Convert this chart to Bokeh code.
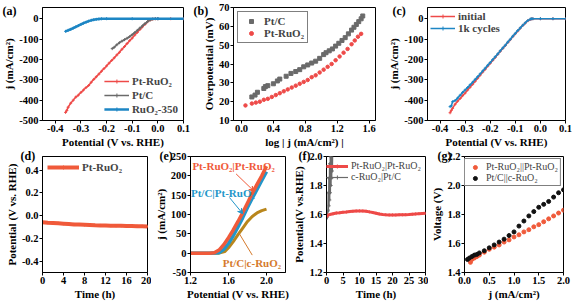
from bokeh.plotting import figure
from bokeh.layouts import row, column
from bokeh.models import (Range1d, FixedTicker, NumeralTickFormatter, Legend,
                          LegendItem, Label, Arrow, VeeHead, Title)
from bokeh.embed import file_html
from bokeh.resources import INLINE

FONT = "Liberation Serif"

# ---------------- data ----------------
# (a) HER LSV
a_ptru_x = [-0.36, -0.355, -0.35, -0.34, -0.33, -0.32, -0.31, -0.30, -0.29, -0.28, -0.27, -0.26,
            -0.25, -0.24, -0.23, -0.22, -0.21, -0.20, -0.19, -0.18, -0.17, -0.16, -0.15, -0.14,
            -0.13, -0.12, -0.11, -0.10, -0.09, -0.08, -0.07, -0.06, -0.05, -0.04, -0.03, -0.02,
            -0.01, 0.0, 0.05, 0.1]
a_ptru_y = [-460, -450, -435, -415, -400, -385, -375, -362, -350, -338, -328, -312,
            -298, -285, -272, -258, -245, -232, -218, -205, -192, -178, -165, -150,
            -137, -122, -108, -95, -80, -67, -53, -40, -27, -15, -6, -2,
            0, 0, 0, 0]
a_ptc_x = [-0.178, -0.17, -0.16, -0.15, -0.14, -0.13, -0.12, -0.11, -0.10, -0.09, -0.08, -0.07,
           -0.06, -0.05, -0.04, -0.03, -0.02, -0.01, 0.0]
a_ptc_y = [-147, -140, -128, -118, -110, -103, -96, -88, -78, -68, -57, -46,
           -35, -24, -14, -6, -2, 0, 0]
a_ruo_x = [-0.36, -0.35, -0.34, -0.33, -0.32, -0.31, -0.30, -0.29, -0.28, -0.27, -0.26, -0.25,
           -0.24, -0.23, -0.22, -0.20, -0.10, 0.0, 0.1]
a_ruo_y = [-62, -57, -52, -46, -40, -34, -28, -22, -17, -12, -8, -5,
           -3, -1.5, -0.5, 0, 0, 0, 0]

# (b) Tafel
b_ptc_x = [0.13, 0.17, 0.20, 0.28, 0.30, 0.33, 0.40, 0.45, 0.48, 0.56, 0.62, 0.68, 0.73, 0.78,
           0.83, 0.88, 0.93, 0.98, 1.03, 1.06, 1.10, 1.14, 1.18, 1.22, 1.26, 1.30, 1.34, 1.38,
           1.41, 1.44, 1.47, 1.50, 1.52]
b_ptc_y = [22.5, 23.5, 25, 27, 28, 28.5, 29.5, 31, 32, 33.5, 35, 36, 37, 38.5,
           39.5, 40.5, 41.5, 43, 45, 46, 47, 48, 49.5, 51, 52.5, 54, 56, 58,
           59.5, 61, 62.5, 64, 65.5]
b_ptru_x = [0.05, 0.13, 0.18, 0.23, 0.28, 0.33, 0.38, 0.43, 0.48, 0.53, 0.58, 0.63, 0.68, 0.73,
            0.78, 0.83, 0.88, 0.93, 0.98, 1.03, 1.08, 1.13, 1.18, 1.23, 1.28, 1.33, 1.38, 1.42,
            1.46, 1.50]
b_ptru_y = [18, 19, 19.5, 20, 21, 21.5, 22.5, 23.5, 24.5, 25.5, 26.5, 27.5, 28.5, 29.5,
            30.5, 31.5, 33, 34, 35.5, 37, 38.5, 40, 42, 44, 46, 48, 50.5, 52.5,
            54.5, 56]

# (c) stability LSV
c_x = [-0.36, -0.355, -0.35, -0.34, -0.33, -0.32, -0.31, -0.30, -0.29, -0.28, -0.27, -0.26,
       -0.25, -0.24, -0.23, -0.22, -0.21, -0.20, -0.19, -0.18, -0.17, -0.16, -0.15, -0.14,
       -0.13, -0.12, -0.11, -0.10, -0.09, -0.08, -0.07, -0.06, -0.05, -0.04, -0.035, -0.03,
       0.0, 0.05, 0.1]
c_init_y = [-462, -450, -440, -420, -405, -392, -378, -365, -350, -336, -322, -307,
            -292, -277, -262, -248, -233, -219, -204, -190, -175, -160, -146, -132,
            -117, -103, -88, -74, -60, -46, -33, -21, -10, -3, -1, 0,
            0, 0, 0]
c_1k_y = [-432, -428, -408, -402, -390, -376, -362, -350, -338, -325, -312, -298,
          -285, -271, -257, -243, -229, -215, -201, -187, -173, -158, -144, -130,
          -115, -101, -86, -72, -58, -45, -32, -20, -9, -2, -0.5, 0,
          0, 0, 0]

# (d) chronopotentiometry
d_t = [0, 1, 2, 3, 4, 5, 6, 7, 8, 9, 10, 11, 12, 13, 14, 15, 16, 17, 18, 19, 20]
d_v = [-0.058, -0.062, -0.065, -0.068, -0.071, -0.074, -0.077, -0.079, -0.081, -0.083, -0.085,
       -0.086, -0.087, -0.088, -0.089, -0.090, -0.091, -0.092, -0.093, -0.094, -0.096]

# (e) overall water splitting LSV
e_red_x = [1.2, 1.3, 1.4, 1.45, 1.5, 1.55, 1.6, 1.65, 1.7, 1.75, 1.8, 1.85, 1.9, 1.95, 2.0]
e_red_y = [0, 0, 0, 1, 8, 22, 40, 60, 82, 105, 130, 155, 178, 200, 225]
e_blue_x = [1.2, 1.3, 1.4, 1.5, 1.55, 1.6, 1.65, 1.7, 1.75, 1.8, 1.85, 1.9, 1.95, 2.0]
e_blue_y = [0, 0, 0, 1, 10, 25, 45, 68, 92, 118, 142, 165, 188, 211]
e_brown_x = [1.2, 1.3, 1.4, 1.5, 1.56, 1.6, 1.65, 1.7, 1.75, 1.8, 1.85, 1.9, 1.95, 2.0]
e_brown_y = [0, 0, 0, 0, 4, 14, 30, 48, 65, 82, 95, 104, 110, 114]

# (f) two-electrode stability
f_red_t = [0, 0.5, 1, 2, 3, 4, 5, 6, 7, 8, 9, 10, 11, 12, 13, 14, 15, 16, 17, 18, 19, 20,
           21, 22, 23, 24, 25, 26, 27, 28, 29, 30]
f_red_v = [1.585, 1.595, 1.60, 1.605, 1.61, 1.612, 1.615, 1.617, 1.62, 1.622, 1.624, 1.625,
           1.624, 1.622, 1.618, 1.614, 1.609, 1.604, 1.60, 1.598, 1.597, 1.597,
           1.597, 1.598, 1.598, 1.599, 1.60, 1.602, 1.604, 1.606, 1.607, 1.608]
f_gray_t = [0, 0.2, 0.4, 0.5, 0.6, 0.7, 0.8, 0.9, 1.0, 1.1, 1.2, 1.3, 1.4, 1.5, 1.6, 1.7, 1.8, 1.9]
f_gray_v = [1.57, 1.58, 1.62, 1.75, 1.63, 1.85, 1.66, 1.95, 1.70, 2.0, 1.75, 2.05, 1.80, 2.05,
            1.85, 2.05, 1.90, 2.05]

# (g) polarization
g_red_j = [0.12, 0.15, 0.2, 0.25, 0.3, 0.4, 0.5, 0.6, 0.7, 0.8, 0.9, 1.0, 1.1, 1.2, 1.3,
           1.4, 1.5, 1.6, 1.7, 1.8, 1.9, 2.0]
g_red_v = [1.47, 1.49, 1.50, 1.51, 1.52, 1.54, 1.56, 1.575, 1.59, 1.61, 1.625, 1.645, 1.66,
           1.68, 1.695, 1.715, 1.73, 1.75, 1.77, 1.79, 1.81, 1.83]
g_blk_j = [0.06, 0.1, 0.15, 0.2, 0.25, 0.3, 0.4, 0.5, 0.6, 0.7, 0.8, 0.9, 1.0, 1.1, 1.2,
           1.3, 1.4, 1.5, 1.6, 1.7, 1.8, 1.9, 2.0]
g_blk_v = [1.49, 1.50, 1.51, 1.52, 1.525, 1.535, 1.55, 1.57, 1.59, 1.61, 1.63, 1.655, 1.68,
           1.72, 1.755, 1.79, 1.82, 1.85, 1.87, 1.89, 1.92, 1.95, 1.97]

# ticks
a_xticks = [-0.4, -0.3, -0.2, -0.1, 0.0, 0.1]
a_yticks = [-500, -400, -300, -200, -100, 0]
b_xticks = [0.0, 0.4, 0.8, 1.2, 1.6]
b_yticks = [10, 20, 30, 40, 50, 60, 70]
d_xticks = [0, 4, 8, 12, 16, 20]
d_yticks = [-0.4, -0.2, 0.0, 0.2, 0.4]
e_xticks = [1.2, 1.6, 2.0]
e_yticks = [-50, 0, 50, 100, 150, 200, 250]
f_xticks = [0, 5, 10, 15, 20, 25, 30]
f_yticks = [1.2, 1.4, 1.6, 1.8, 2.0]
g_xticks = [0.0, 0.5, 1.0, 1.5, 2.0]
g_yticks = [1.4, 1.6, 1.8, 2.0, 2.2]

RED = "#EE4A48"
ORANGE = "#F05A3A"
GRAY = "#6A6A6A"
BLUE = "#1D86C4"
EBLUE = "#2396C9"
BROWN = "#B9861C"
BROWN_T = "#D57A2C"


def make_fig(w, h, xr, yr, xt, yt, xfmt, yfmt, xlabel, ylabel, bl, br, bt, bb):
    p = figure(width=w, height=h, x_range=Range1d(*xr), y_range=Range1d(*yr),
               output_backend="svg", toolbar_location=None,
               min_border_left=bl, min_border_right=br, min_border_top=bt, min_border_bottom=bb)
    p.xgrid.visible = False
    p.ygrid.visible = False
    p.outline_line_color = "black"
    p.outline_line_width = 1
    p.outline_line_alpha = 1
    for ax, ticks, fmt, lab in ((p.xaxis[0], xt, xfmt, xlabel), (p.yaxis[0], yt, yfmt, ylabel)):
        ax.ticker = FixedTicker(ticks=ticks, minor_ticks=[])
        ax.formatter = NumeralTickFormatter(format=fmt)
        ax.axis_label = lab
        ax.axis_label_text_font = FONT
        ax.axis_label_text_font_style = "bold"
        ax.axis_label_text_font_size = "11px"
        ax.axis_label_text_color = "black"
        ax.major_label_text_font = FONT
        ax.major_label_text_font_style = "bold"
        ax.major_label_text_font_size = "10.5px"
        ax.major_label_text_color = "black"
        ax.major_tick_out = 3
        ax.major_tick_in = 0
        ax.minor_tick_out = 0
        ax.minor_tick_in = 0
        ax.major_label_standoff = 1
        ax.axis_label_standoff = 1
        ax.axis_line_color = "black"
        ax.major_tick_line_color = "black"
    return p


def add_legend(p, items, loc, size="11px", style="bold", border=False, glyph_w=25,
               spacing=0, padding=2, margin=2):
    lg = Legend(items=[LegendItem(label=l, renderers=r) for l, r in items], location=loc)
    lg.label_text_font = FONT
    lg.label_text_font_style = style
    lg.label_text_font_size = size
    lg.glyph_width = glyph_w
    lg.glyph_height = 10
    lg.label_height = 10
    lg.label_standoff = 3
    lg.spacing = spacing
    lg.padding = padding
    lg.margin = margin
    if border:
        lg.border_line_color = "black"
        lg.border_line_width = 1
        lg.background_fill_alpha = 1
    else:
        lg.border_line_alpha = 0
        lg.background_fill_alpha = 0
    p.add_layout(lg)


def tag(p, text, offset, standoff):
    t = Title(text=text, align="left", offset=offset, standoff=standoff,
              vertical_align="bottom", text_font=FONT, text_font_style="bold",
              text_font_size="12px", text_color="black")
    p.add_layout(t, "above")


POT = "Potential (V vs. RHE)"
JLAB = "j (mA/cm²)"

# ---------- (a) ----------
pa = make_fig(190, 150, (-0.45, 0.1), (-500, 55), a_xticks, a_yticks, "0.0", "0",
              POT, JLAB, 42, 7, 7, 29)
la1 = pa.line(a_ptru_x, a_ptru_y, line_color=RED, line_width=1.5)
sa1 = pa.scatter(a_ptru_x, a_ptru_y, marker="cross", size=3, line_color=RED)
la2 = pa.line(a_ptc_x, a_ptc_y, line_color=GRAY, line_width=1.5)
sa2 = pa.scatter(a_ptc_x, a_ptc_y, marker="cross", size=3, line_color=GRAY)
la3 = pa.line(a_ruo_x, a_ruo_y, line_color=BLUE, line_width=2.5)
sa3 = pa.scatter(a_ruo_x, a_ruo_y, marker="cross", size=3, line_color=BLUE)
add_legend(pa, [("Pt-RuO₂", [la1, sa1]), ("Pt/C", [la2, sa2]), ("RuO₂-350", [la3, sa3])],
           "bottom_right", spacing=2, margin=3)
tag(pa, "(a)", -40, -20)

# ---------- (b) ----------
pb = make_fig(195, 150, (-0.1, 1.68), (10, 70), b_xticks, b_yticks, "0.0", "0",
              "log | j (mA/cm²) |", "Overpotential (mV)", 43, 10, 7, 29)
sb1 = pb.scatter(b_ptc_x, b_ptc_y, marker="square", size=4, fill_color=GRAY, line_color=GRAY)
sb2 = pb.scatter(b_ptru_x, b_ptru_y, marker="circle", size=3.5, fill_color=RED, line_color=RED)
add_legend(pb, [("Pt/C", [sb1]), ("Pt-RuO₂", [sb2])], "top_left", border=True,
           glyph_w=20, padding=3, margin=4)
tag(pb, "(b)", -40, -20)

# ---------- (c) ----------
pc = make_fig(197, 150, (-0.45, 0.1), (-500, 55), a_xticks, a_yticks, "0.0", "0",
              POT, JLAB, 38, 17, 7, 29)
lc1 = pc.line(c_x, c_init_y, line_color=RED, line_width=1.5)
sc1 = pc.scatter(c_x, c_init_y, marker="cross", size=3, line_color=RED)
lc2 = pc.line(c_x, c_1k_y, line_color=BLUE, line_width=1.5)
sc2 = pc.scatter(c_x, c_1k_y, marker="cross", size=3, line_color=BLUE)
add_legend(pc, [("initial", [lc1, sc1]), ("1k cycles", [lc2, sc2])], "top_left", margin=1)
tag(pc, "(c)", -35, -20)

# ---------- (d) ----------
pd_ = make_fig(151, 156, (0, 20), (-0.5, 0.52), d_xticks, d_yticks, "0", "0.0",
               "Time (h)", POT, 42, 4, 6, 34)
ld = pd_.line(d_t, d_v, line_color=ORANGE, line_width=4)
sd = pd_.scatter(d_t, d_v, marker="asterisk", size=3, line_color=ORANGE)
add_legend(pd_, [("Pt-RuO₂", [ld, sd])], "top_left", glyph_w=32, margin=3)
tag(pd_, "(d)", -22, -12)

# ---------- (e) ----------
pe = make_fig(139, 156, (1.2, 2.2), (-50, 250), e_xticks, e_yticks, "0.0", "0",
              POT, JLAB, 32, 5, 6, 34)
pe.line(e_brown_x, e_brown_y, line_color=BROWN, line_width=3)
pe.line(e_blue_x, e_blue_y, line_color=EBLUE, line_width=3.5)
pe.line(e_red_x, e_red_y, line_color=ORANGE, line_width=3.5)
pe.add_layout(Label(x=1.22, y=226, text="Pt-RuO₂|Pt-RuO₂", text_color=ORANGE,
                    text_font=FONT, text_font_style="bold", text_font_size="11px",
                    text_baseline="middle"))
pe.add_layout(Label(x=1.205, y=156, text="Pt/C|Pt-RuO₂", text_color=EBLUE,
                    text_font=FONT, text_font_style="bold", text_font_size="11px",
                    text_baseline="middle"))
pe.add_layout(Label(x=1.54, y=-26, text="Pt/C|c-RuO₂", text_color=BROWN_T,
                    text_font=FONT, text_font_style="bold", text_font_size="11px",
                    text_baseline="middle"))
pe.add_layout(Arrow(x_start=1.68, y_start=205, x_end=1.87, y_end=160, line_color=ORANGE,
                    line_width=1, end=VeeHead(size=5, line_color=ORANGE, fill_color=ORANGE)))
pe.add_layout(Arrow(x_start=1.61, y_start=144, x_end=1.75, y_end=102, line_color=EBLUE,
                    line_width=1, end=VeeHead(size=5, line_color=EBLUE, fill_color=EBLUE)))
pe.add_layout(Arrow(x_start=1.85, y_start=-5, x_end=1.71, y_end=52, line_color=BROWN_T,
                    line_width=1, end=None))
tag(pe, "(e)", -31, -12)

# ---------- (f) ----------
pf = make_fig(138, 156, (0, 30), (1.2, 2.0), f_xticks, f_yticks, "0", "0.0",
              "Time (h)", "Potential(V vs.RHE)", 28, 3, 6, 34)
lf2 = pf.line(f_gray_t, f_gray_v, line_color=GRAY, line_width=1.2)
sf2 = pf.scatter(f_gray_t, f_gray_v, marker="cross", size=3, line_color=GRAY)
lf1 = pf.line(f_red_t, f_red_v, line_color=RED, line_width=3)
sf1 = pf.scatter(f_red_t, f_red_v, marker="cross", size=3, line_color=RED)
add_legend(pf, [("Pt-RuO₂|Pt-RuO₂", [lf1, sf1]), ("c-RuO₂|Pt/C", [lf2, sf2])], "top_right",
           size="10px", style="normal", glyph_w=22, margin=2)
tag(pf, "(f)", -28, -12)

# ---------- (g) ----------
pg = make_fig(154, 156, (0, 2.0), (1.4, 2.2), g_xticks, g_yticks, "0.0", "0.0",
              JLAB, "Voltage (V)", 27, 19, 6, 34)
sg1 = pg.scatter(g_red_j, g_red_v, marker="circle", size=4, fill_color=ORANGE, line_color=ORANGE)
sg2 = pg.scatter(g_blk_j, g_blk_v, marker="circle", size=4, fill_color="#111111",
                 line_color="#111111")
add_legend(pg, [("Pt-RuO₂||Pt-RuO₂", [sg1]), ("Pt/C||c-RuO₂", [sg2])], "top_right",
           size="10px", style="normal", border=True, glyph_w=16, padding=2, margin=2)
tag(pg, "(g)", -27, -12)

layout = column(row(pa, pb, pc, spacing=0), row(pd_, pe, pf, pg, spacing=0), spacing=0)
open("out.html", "w").write(file_html(layout, INLINE))
